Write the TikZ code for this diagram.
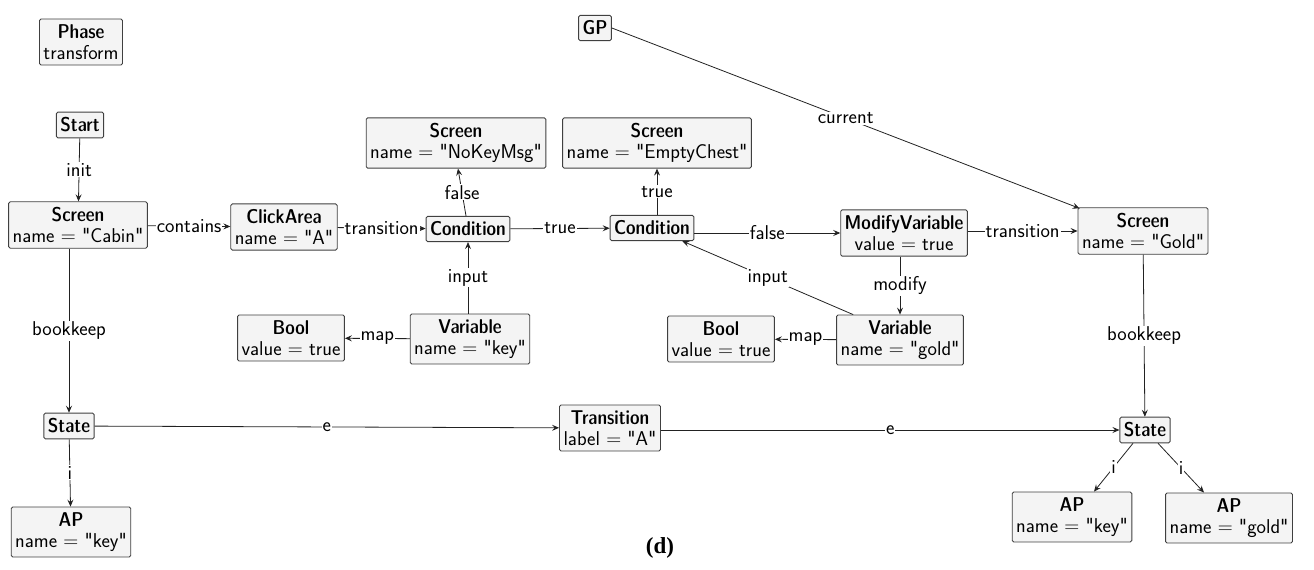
\documentclass[tikz,border=0pt]{standalone}
\usepackage{fontspec}
\newfontfamily\capfont{Liberation Serif}
\newfontfamily\demifont{Latin Modern Sans Demi Cond}
\usetikzlibrary{arrows.meta}
\definecolor{boxfill}{HTML}{F4F4F4}
\definecolor{boxline}{HTML}{404040}
\definecolor{edgeline}{HTML}{222222}
\tikzset{
  obj/.style={draw=boxline, fill=boxfill, rounded corners=1.5pt, line width=0.9pt,
    align=center, inner xsep=4pt, inner ysep=5.5pt,
    font=\sffamily\fontsize{20}{21}\selectfont},
  rel/.style={draw=edgeline, line width=0.8pt,
    -{Stealth[length=7pt,width=6pt,inset=2.6pt]}},
  lbl/.style={fill=white, inner sep=1pt, font=\sffamily\fontsize{20}{21}\selectfont},
}
\newcommand{\hd}[1]{{\demifont #1}}
\newcommand{\obtwo}[2]{\hd{#1}\\#2}
\newcommand{\qs}[1]{\textquotedbl#1\textquotedbl}
\begin{document}
\begin{tikzpicture}[x=1pt,y=-1pt]
\useasboundingbox (0,0) rectangle (1314,570);

% objects
\node[obj] (phase) at (81,42)   {\obtwo{Phase}{transform}};
\node[obj] (start) at (80,125)  {\hd{Start}};
\node[obj] (cabin) at (78,225)  {\obtwo{Screen}{name $=$ \qs{Cabin}}};
\node[obj] (click) at (284,227) {\obtwo{ClickArea}{name $=$ \qs{A}}};
\node[obj] (cond1) at (468,229) {\hd{Condition}};
\node[obj] (nokey) at (456,143) {\obtwo{Screen}{name $=$ \qs{NoKeyMsg}}};
\node[obj] (empty) at (657,143) {\obtwo{Screen}{name $=$ \qs{EmptyChest}}};
\node[obj] (cond2) at (652,228) {\hd{Condition}};
\node[obj] (modv)  at (904,233) {\obtwo{ModifyVariable}{value $=$ true}};
\node[obj] (gold)  at (1143,231){\obtwo{Screen}{name $=$ \qs{Gold}}};
\node[obj] (gp)    at (595,28)  {\hd{GP}};
\node[obj] (bool1) at (291,338) {\obtwo{Bool}{value $=$ true}};
\node[obj] (varkey) at (470,339){\obtwo{Variable}{name $=$ \qs{key}}};
\node[obj] (bool2) at (721,339) {\obtwo{Bool}{value $=$ true}};
\node[obj] (vargold) at (900,340){\obtwo{Variable}{name $=$ \qs{gold}}};
\node[obj] (state1) at (69,426) {\hd{State}};
\node[obj] (trans) at (610,428) {\obtwo{Transition}{label $=$ \qs{A}}};
\node[obj] (state2) at (1145,430){\hd{State}};
\node[obj] (apkey1) at (71,532) {\obtwo{AP}{name $=$ \qs{key}}};
\node[obj] (apkey2) at (1072,517){\obtwo{AP}{name $=$ \qs{key}}};
\node[obj] (apgold) at (1229,518){\obtwo{AP}{name $=$ \qs{gold}}};

% relations
\draw[rel] (start) -- node[lbl] {init} (cabin);
\draw[rel] (cabin) -- node[lbl] {contains} (click);
\draw[rel] (click) -- node[lbl] {transition} (cond1);
\draw[rel] ([xshift=-2pt]cond1.north) -- node[lbl] {false} ([xshift=2pt]nokey.south);
\draw[rel] (cond1) -- node[lbl] {true} (cond2);
\draw[rel] (cond2.north -| empty.south) -- node[lbl] {true} (empty.south);
\draw[rel] (cond2.east |- modv.west) -- node[lbl] {false} (modv.west);
\draw[rel] (modv.east |- gold.west) -- node[lbl] {transition} (gold.west);
\draw[rel] (gp.east) -- node[lbl, pos=0.5] {current} ([xshift=2pt,yshift=-1pt]gold.north west);
\draw[rel] (varkey.north -| cond1.south) -- node[lbl] {input} (cond1.south);
\draw[rel] ([xshift=17pt]vargold.north west) -- node[lbl] {input} ([xshift=-12pt]cond2.south east);
\draw[rel] (modv.south -| vargold.north) -- node[lbl] {modify} (vargold.north);
\draw[rel] (varkey) -- node[lbl] {map} (bool1);
\draw[rel] (vargold) -- node[lbl] {map} (bool2);
\draw[rel] (cabin.south -| state1.north) -- node[lbl] {bookkeep} (state1.north);
\draw[rel] (state1) -- node[lbl] {e} (trans);
\draw[rel] (trans.east |- state2.west) -- node[lbl] {e} (state2.west);
\draw[rel] (gold) -- node[lbl] {bookkeep} (state2);
\draw[rel] (state1) -- node[lbl] {i} (apkey1);
\draw[rel] ([xshift=-12pt]state2.south) -- node[lbl] {i} ([xshift=22pt]apkey2.north);
\draw[rel] ([xshift=13pt]state2.south) -- node[lbl] {i} ([xshift=-25pt]apgold.north);

% caption
\node[font=\capfont\bfseries\fontsize{23}{26}\selectfont] (cap) at (660,548) {(d)};
\end{tikzpicture}
\end{document}
